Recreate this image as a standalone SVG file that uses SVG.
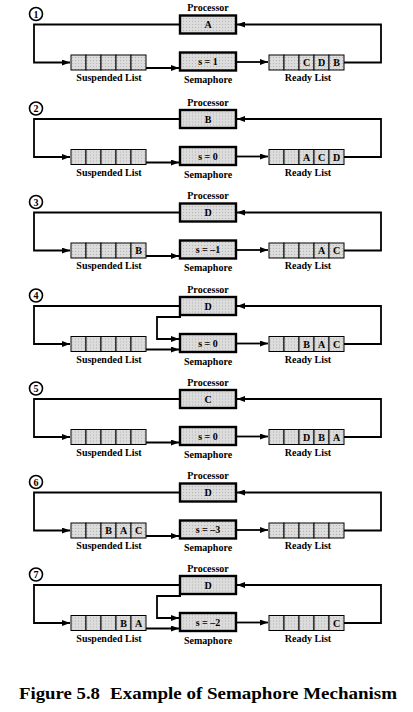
<svg xmlns="http://www.w3.org/2000/svg" width="413" height="712" viewBox="0 0 413 712">
<style>
.box{fill:url(#dots);stroke:#000;stroke-width:2.4}
.cell{fill:url(#dots);stroke:#000;stroke-width:1}
.ln{fill:none;stroke:#000;stroke-width:1.8}
.num{fill:#fff;stroke:#000;stroke-width:1.6}
text{font-family:"Liberation Serif","Times New Roman",serif;font-weight:bold;font-size:10px;text-anchor:middle;fill:#000}
.cap{font-size:17px;text-anchor:start}
</style>
<defs>
<pattern id="dots" width="3" height="3" patternUnits="userSpaceOnUse"><rect width="3" height="3" fill="#dcdcdc"/><rect width="1" height="1" fill="#b4b4b4"/></pattern>
<marker id="ar" markerUnits="userSpaceOnUse" markerWidth="8" markerHeight="6" refX="8" refY="3" orient="auto"><path d="M0,0 L8,3 L0,6 z" fill="#000"/></marker>
</defs>
<rect width="413" height="712" fill="#fff"/>

<!-- Panel 1 -->
<g id="p1" transform="translate(0,0)">
<g id="p1-conn" class="ln">
<path d="M180,24.5 H34 V62.5 H70" marker-end="url(#ar)"/>
<path d="M146,68 H179" marker-end="url(#ar)"/>
<path d="M236,62 H268" marker-end="url(#ar)"/>
<path d="M344,62.5 H381 V24.5 H237" marker-end="url(#ar)"/>
</g>
<g id="p1-step"><circle cx="36" cy="14" r="6.5" class="num"/><text x="36" y="17.5">1</text></g>
<g id="p1-processor"><text x="208" y="11">Processor</text><rect x="180" y="15.5" width="56" height="18" class="box"/><text x="208" y="28">A</text></g>
<g id="p1-semaphore"><rect x="180" y="52.5" width="56" height="18" class="box"/><text x="208" y="65">s = 1</text><text x="208" y="83">Semaphore</text></g>
<g id="p1-suspended"><rect x="71" y="55" width="15" height="15" class="cell"/><rect x="86" y="55" width="15" height="15" class="cell"/><rect x="101" y="55" width="15" height="15" class="cell"/><rect x="116" y="55" width="15" height="15" class="cell"/><rect x="131" y="55" width="15" height="15" class="cell"/><text x="109" y="81">Suspended List</text></g>
<g id="p1-ready"><rect x="269" y="55" width="15" height="15" class="cell"/><rect x="284" y="55" width="15" height="15" class="cell"/><rect x="299" y="55" width="15" height="15" class="cell"/><rect x="314" y="55" width="15" height="15" class="cell"/><rect x="329" y="55" width="15" height="15" class="cell"/><text x="306.5" y="66">C</text><text x="321.5" y="66">D</text><text x="336.5" y="66">B</text><text x="308" y="81">Ready List</text></g>
</g>

<!-- Panel 2 -->
<g id="p2" transform="translate(0,94.5)">
<g id="p2-conn" class="ln">
<path d="M180,24.5 H34 V62.5 H70" marker-end="url(#ar)"/>
<path d="M146,68 H179" marker-end="url(#ar)"/>
<path d="M236,62 H268" marker-end="url(#ar)"/>
<path d="M344,62.5 H381 V24.5 H237" marker-end="url(#ar)"/>
</g>
<g id="p2-step"><circle cx="36" cy="14" r="6.5" class="num"/><text x="36" y="17.5">2</text></g>
<g id="p2-processor"><text x="208" y="11">Processor</text><rect x="180" y="15.5" width="56" height="18" class="box"/><text x="208" y="28">B</text></g>
<g id="p2-semaphore"><rect x="180" y="52.5" width="56" height="18" class="box"/><text x="208" y="65">s = 0</text><text x="208" y="83">Semaphore</text></g>
<g id="p2-suspended"><rect x="71" y="55" width="15" height="15" class="cell"/><rect x="86" y="55" width="15" height="15" class="cell"/><rect x="101" y="55" width="15" height="15" class="cell"/><rect x="116" y="55" width="15" height="15" class="cell"/><rect x="131" y="55" width="15" height="15" class="cell"/><text x="109" y="81">Suspended List</text></g>
<g id="p2-ready"><rect x="269" y="55" width="15" height="15" class="cell"/><rect x="284" y="55" width="15" height="15" class="cell"/><rect x="299" y="55" width="15" height="15" class="cell"/><rect x="314" y="55" width="15" height="15" class="cell"/><rect x="329" y="55" width="15" height="15" class="cell"/><text x="306.5" y="66">A</text><text x="321.5" y="66">C</text><text x="336.5" y="66">D</text><text x="308" y="81">Ready List</text></g>
</g>

<!-- Panel 3 -->
<g id="p3" transform="translate(0,188)">
<g id="p3-conn" class="ln">
<path d="M180,24.5 H34 V62.5 H70" marker-end="url(#ar)"/>
<path d="M146,68 H179" marker-end="url(#ar)"/>
<path d="M236,62 H268" marker-end="url(#ar)"/>
<path d="M344,62.5 H381 V24.5 H237" marker-end="url(#ar)"/>
</g>
<g id="p3-step"><circle cx="36" cy="14" r="6.5" class="num"/><text x="36" y="17.5">3</text></g>
<g id="p3-processor"><text x="208" y="11">Processor</text><rect x="180" y="15.5" width="56" height="18" class="box"/><text x="208" y="28">D</text></g>
<g id="p3-semaphore"><rect x="180" y="52.5" width="56" height="18" class="box"/><text x="208" y="65">s = –1</text><text x="208" y="83">Semaphore</text></g>
<g id="p3-suspended"><rect x="71" y="55" width="15" height="15" class="cell"/><rect x="86" y="55" width="15" height="15" class="cell"/><rect x="101" y="55" width="15" height="15" class="cell"/><rect x="116" y="55" width="15" height="15" class="cell"/><rect x="131" y="55" width="15" height="15" class="cell"/><text x="138.5" y="66">B</text><text x="109" y="81">Suspended List</text></g>
<g id="p3-ready"><rect x="269" y="55" width="15" height="15" class="cell"/><rect x="284" y="55" width="15" height="15" class="cell"/><rect x="299" y="55" width="15" height="15" class="cell"/><rect x="314" y="55" width="15" height="15" class="cell"/><rect x="329" y="55" width="15" height="15" class="cell"/><text x="321.5" y="66">A</text><text x="336.5" y="66">C</text><text x="308" y="81">Ready List</text></g>
</g>

<!-- Panel 4 -->
<g id="p4" transform="translate(0,281.5)">
<g id="p4-conn" class="ln">
<path d="M180,24.5 H34 V62.5 H70" marker-end="url(#ar)"/>
<path d="M146,68 H179" marker-end="url(#ar)"/>
<path d="M236,62 H268" marker-end="url(#ar)"/>
<path d="M344,62.5 H381 V24.5 H237" marker-end="url(#ar)"/>
<path d="M181,35.5 H157 V57.5 H179" marker-end="url(#ar)"/>
</g>
<g id="p4-step"><circle cx="36" cy="14" r="6.5" class="num"/><text x="36" y="17.5">4</text></g>
<g id="p4-processor"><text x="208" y="11">Processor</text><rect x="180" y="15.5" width="56" height="18" class="box"/><text x="208" y="28">D</text></g>
<g id="p4-semaphore"><rect x="180" y="52.5" width="56" height="18" class="box"/><text x="208" y="65">s = 0</text><text x="208" y="83">Semaphore</text></g>
<g id="p4-suspended"><rect x="71" y="55" width="15" height="15" class="cell"/><rect x="86" y="55" width="15" height="15" class="cell"/><rect x="101" y="55" width="15" height="15" class="cell"/><rect x="116" y="55" width="15" height="15" class="cell"/><rect x="131" y="55" width="15" height="15" class="cell"/><text x="109" y="81">Suspended List</text></g>
<g id="p4-ready"><rect x="269" y="55" width="15" height="15" class="cell"/><rect x="284" y="55" width="15" height="15" class="cell"/><rect x="299" y="55" width="15" height="15" class="cell"/><rect x="314" y="55" width="15" height="15" class="cell"/><rect x="329" y="55" width="15" height="15" class="cell"/><text x="306.5" y="66">B</text><text x="321.5" y="66">A</text><text x="336.5" y="66">C</text><text x="308" y="81">Ready List</text></g>
</g>

<!-- Panel 5 -->
<g id="p5" transform="translate(0,374.5)">
<g id="p5-conn" class="ln">
<path d="M180,24.5 H34 V62.5 H70" marker-end="url(#ar)"/>
<path d="M146,68 H179" marker-end="url(#ar)"/>
<path d="M236,62 H268" marker-end="url(#ar)"/>
<path d="M344,62.5 H381 V24.5 H237" marker-end="url(#ar)"/>
</g>
<g id="p5-step"><circle cx="36" cy="14" r="6.5" class="num"/><text x="36" y="17.5">5</text></g>
<g id="p5-processor"><text x="208" y="11">Processor</text><rect x="180" y="15.5" width="56" height="18" class="box"/><text x="208" y="28">C</text></g>
<g id="p5-semaphore"><rect x="180" y="52.5" width="56" height="18" class="box"/><text x="208" y="65">s = 0</text><text x="208" y="83">Semaphore</text></g>
<g id="p5-suspended"><rect x="71" y="55" width="15" height="15" class="cell"/><rect x="86" y="55" width="15" height="15" class="cell"/><rect x="101" y="55" width="15" height="15" class="cell"/><rect x="116" y="55" width="15" height="15" class="cell"/><rect x="131" y="55" width="15" height="15" class="cell"/><text x="109" y="81">Suspended List</text></g>
<g id="p5-ready"><rect x="269" y="55" width="15" height="15" class="cell"/><rect x="284" y="55" width="15" height="15" class="cell"/><rect x="299" y="55" width="15" height="15" class="cell"/><rect x="314" y="55" width="15" height="15" class="cell"/><rect x="329" y="55" width="15" height="15" class="cell"/><text x="306.5" y="66">D</text><text x="321.5" y="66">B</text><text x="336.5" y="66">A</text><text x="308" y="81">Ready List</text></g>
</g>

<!-- Panel 6 -->
<g id="p6" transform="translate(0,468)">
<g id="p6-conn" class="ln">
<path d="M180,24.5 H34 V62.5 H70" marker-end="url(#ar)"/>
<path d="M146,68 H179" marker-end="url(#ar)"/>
<path d="M236,62 H268" marker-end="url(#ar)"/>
<path d="M344,62.5 H381 V24.5 H237" marker-end="url(#ar)"/>
</g>
<g id="p6-step"><circle cx="36" cy="14" r="6.5" class="num"/><text x="36" y="17.5">6</text></g>
<g id="p6-processor"><text x="208" y="11">Processor</text><rect x="180" y="15.5" width="56" height="18" class="box"/><text x="208" y="28">D</text></g>
<g id="p6-semaphore"><rect x="180" y="52.5" width="56" height="18" class="box"/><text x="208" y="65">s = –3</text><text x="208" y="83">Semaphore</text></g>
<g id="p6-suspended"><rect x="71" y="55" width="15" height="15" class="cell"/><rect x="86" y="55" width="15" height="15" class="cell"/><rect x="101" y="55" width="15" height="15" class="cell"/><rect x="116" y="55" width="15" height="15" class="cell"/><rect x="131" y="55" width="15" height="15" class="cell"/><text x="108.5" y="66">B</text><text x="123.5" y="66">A</text><text x="138.5" y="66">C</text><text x="109" y="81">Suspended List</text></g>
<g id="p6-ready"><rect x="269" y="55" width="15" height="15" class="cell"/><rect x="284" y="55" width="15" height="15" class="cell"/><rect x="299" y="55" width="15" height="15" class="cell"/><rect x="314" y="55" width="15" height="15" class="cell"/><rect x="329" y="55" width="15" height="15" class="cell"/><text x="308" y="81">Ready List</text></g>
</g>

<!-- Panel 7 -->
<g id="p7" transform="translate(0,560.5)">
<g id="p7-conn" class="ln">
<path d="M180,24.5 H34 V62.5 H70" marker-end="url(#ar)"/>
<path d="M146,68 H179" marker-end="url(#ar)"/>
<path d="M236,62 H268" marker-end="url(#ar)"/>
<path d="M344,62.5 H381 V24.5 H237" marker-end="url(#ar)"/>
<path d="M181,35.5 H157 V57.5 H179" marker-end="url(#ar)"/>
</g>
<g id="p7-step"><circle cx="36" cy="14" r="6.5" class="num"/><text x="36" y="17.5">7</text></g>
<g id="p7-processor"><text x="208" y="11">Processor</text><rect x="180" y="15.5" width="56" height="18" class="box"/><text x="208" y="28">D</text></g>
<g id="p7-semaphore"><rect x="180" y="52.5" width="56" height="18" class="box"/><text x="208" y="65">s = –2</text><text x="208" y="83">Semaphore</text></g>
<g id="p7-suspended"><rect x="71" y="55" width="15" height="15" class="cell"/><rect x="86" y="55" width="15" height="15" class="cell"/><rect x="101" y="55" width="15" height="15" class="cell"/><rect x="116" y="55" width="15" height="15" class="cell"/><rect x="131" y="55" width="15" height="15" class="cell"/><text x="123.5" y="66">B</text><text x="138.5" y="66">A</text><text x="109" y="81">Suspended List</text></g>
<g id="p7-ready"><rect x="269" y="55" width="15" height="15" class="cell"/><rect x="284" y="55" width="15" height="15" class="cell"/><rect x="299" y="55" width="15" height="15" class="cell"/><rect x="314" y="55" width="15" height="15" class="cell"/><rect x="329" y="55" width="15" height="15" class="cell"/><text x="336.5" y="66">C</text><text x="308" y="81">Ready List</text></g>
</g>

<g id="caption">
<text x="19" y="699" class="cap" textLength="81" lengthAdjust="spacingAndGlyphs">Figure 5.8</text>
<text x="110" y="699" class="cap" textLength="287" lengthAdjust="spacingAndGlyphs">Example of Semaphore Mechanism</text>
</g>
</svg>
